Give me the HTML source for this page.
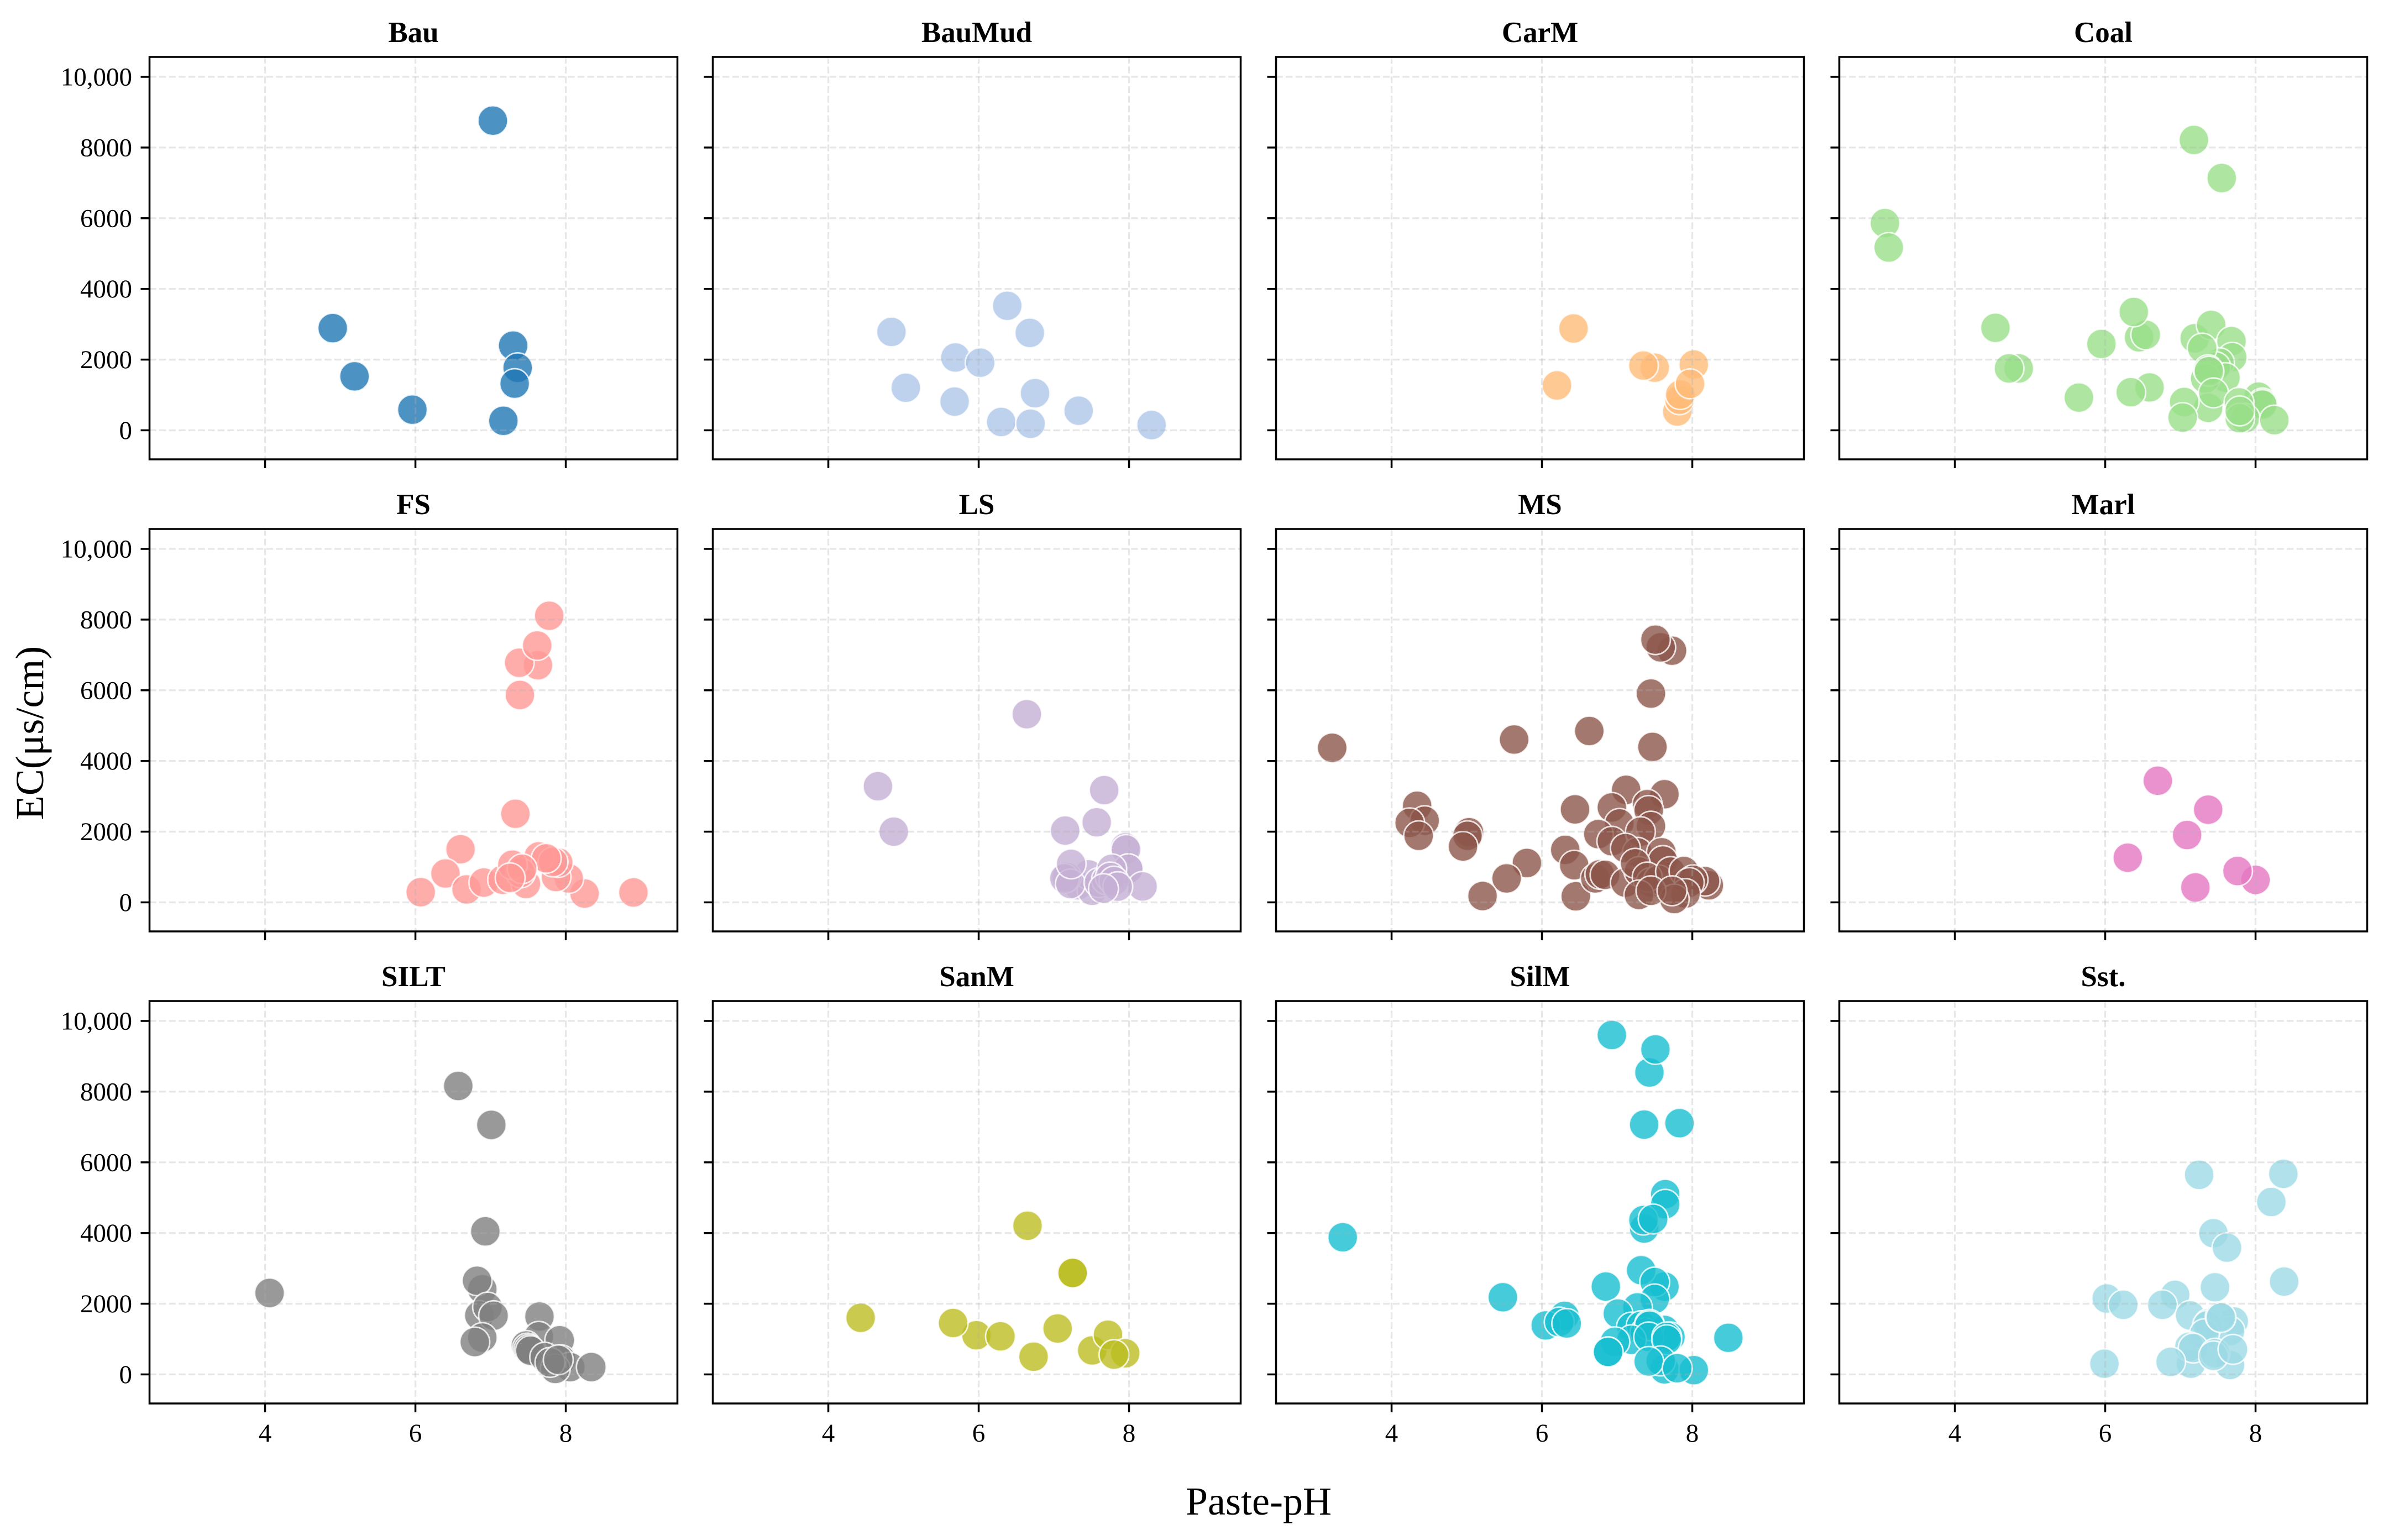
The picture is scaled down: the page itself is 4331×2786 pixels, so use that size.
<!DOCTYPE html>
<html lang="en">
<head>
<meta charset="utf-8">
<title>EC vs Paste-pH by lithology</title>
<style>
html,body{margin:0;padding:0;background:#fff;width:4331px;height:2786px;overflow:hidden}
svg{display:block}
text{font-family:"Liberation Serif","Times New Roman",serif;fill:#000}
</style>
</head>
<body>
<svg id="figure" xmlns="http://www.w3.org/2000/svg" width="4331" height="2786" viewBox="0 0 4331 2786">
<rect x="0" y="0" width="4331" height="2786" fill="#ffffff"/>
<text x="2277" y="2740" font-size="72" text-anchor="middle">Paste-pH</text>
<text x="78" y="1326" font-size="72" text-anchor="middle" transform="rotate(-90 78 1326)">EC(μs/cm)</text>
</svg>
<script>
const panelNames = ["Bau","BauMud","CarM","Coal","FS","LS","MS","Marl","SILT","SanM","SilM","Sst."];
const panelColors = ["#1f77b4","#aec7e8","#ffbb78","#98df8a","#ff9896","#c5b0d5","#8c564b","#e377c2","#7f7f7f","#bcbd22","#17becf","#9edae5"];
const xTicks = [4,6,8];
const yTicks = [0,2000,4000,6000,8000,10000];
const yTickLabels = ["0","2000","4000","6000","8000","10,000"];

const bauPh = [7.03,4.90,5.19,5.96,7.17,7.30,7.36,7.32];
const bauEc = [8761,2890,1526,583,269,2397,1768,1320];
const bauMudPh = [6.38,4.84,6.68,5.69,6.02,5.03,5.68,6.75,7.33,6.30,6.69,8.30];
const bauMudEc = [3523,2784,2755,2060,1913,1204,812,1049,554,236,185,148];
const carMPh = [6.42,6.20,7.50,7.35,8.02,7.80,7.83,7.84,7.97];
const carMEc = [2880,1270,1772,1832,1861,532,864,1012,1315];
const coalPh = [7.18,7.55,3.07,3.12,4.54,4.85,4.72,5.95,5.65,6.45,6.54,6.38,6.59,6.34,7.19,7.41,7.68,7.69,7.52,7.47,7.60,7.33,7.29,7.37,7.38,7.37,7.44,7.05,7.03,8.04,8.09,8.09,7.78,7.86,7.79,7.79,8.25];
const coalEc = [8214,7136,5862,5171,2899,1750,1750,2442,925,2630,2702,3348,1212,1077,2603,2980,2522,2065,1912,1800,1490,1463,2325,1715,1670,637,1059,800,359,952,772,727,790,341,341,548,287];
const fsPh = [7.78,7.63,7.38,7.62,7.39,7.33,6.60,6.40,6.07,6.68,6.91,8.90,8.25,8.04,7.87,7.90,7.64,7.83,7.74,7.16,7.47,7.40,7.29,7.42,7.26];
const fsEc = [8109,6708,6778,7268,5868,2506,1502,817,288,366,560,280,249,677,716,1128,1300,1144,1245,640,521,833,1066,950,693];
const lsPh = [6.64,4.66,4.87,7.67,7.57,7.15,7.95,7.96,7.32,7.51,7.99,7.99,8.18,7.46,7.17,7.14,7.22,7.23,7.60,7.70,7.77,7.75,7.80,7.85,7.66];
const lsEc = [5323,3284,2000,3175,2265,2031,1556,1494,482,327,949,949,451,794,716,677,521,1089,560,638,949,716,600,444,389];
const msPh = [3.21,5.63,6.63,7.47,7.45,7.73,7.58,7.51,4.34,4.44,4.24,4.36,5.03,5.01,4.95,5.80,5.53,5.21,6.44,6.45,6.31,6.43,7.12,7.63,7.40,6.93,7.42,7.03,7.45,6.75,6.93,7.31,7.27,7.11,7.59,7.61,6.71,6.77,6.84,7.11,7.29,7.24,7.45,7.55,7.40,7.71,7.89,8.22,8.17,8.01,7.96,7.91,7.76,7.29,7.45,7.73];
const msEc = [4373,4607,4848,4397,5907,7121,7214,7432,2732,2311,2249,1883,1984,1883,1580,1113,677,179,2630,171,1486,1050,3183,3058,2778,2685,2599,2233,2155,1930,1728,2000,1416,1533,1416,1183,677,794,778,560,872,1105,560,638,716,872,887,482,600,638,560,249,93,210,327,327];
const marlPh = [6.70,7.37,7.09,6.30,8.00,7.76,7.20];
const marlEc = [3442,2622,1905,1263,635,886,421];
const siltPh = [6.57,7.01,6.93,6.89,6.82,4.06,6.85,6.96,7.04,6.89,6.79,7.65,7.64,7.92,7.47,7.49,7.51,7.53,7.72,7.94,8.06,7.86,7.79,7.90,8.34];
const siltEc = [8161,7060,4047,2408,2651,2304,1669,1905,1661,1041,916,1638,1077,967,819,745,708,672,487,413,207,155,340,413,207];
const sanMPh = [4.43,6.65,7.25,7.25,5.97,5.66,6.29,6.73,7.05,7.51,7.72,7.95,7.80];
const sanMEc = [1601,4207,2871,2871,1107,1454,1077,502,1299,679,1122,598,561];
const silMPh = [6.93,7.43,7.51,7.36,7.83,7.64,7.64,7.36,7.35,7.48,3.35,7.63,7.32,7.50,6.85,7.50,5.48,6.30,6.05,6.23,6.33,7.27,7.01,8.48,7.19,7.32,7.37,7.63,7.71,7.43,7.43,7.19,7.42,7.66,7.66,6.97,6.88,6.88,7.63,7.58,7.42,8.02,7.80];
const silMEc = [9602,8542,9195,7068,7108,5100,4813,4127,4367,4398,3880,2486,2948,2614,2486,2135,2183,1657,1386,1482,1442,1896,1721,1036,1339,1378,1179,1259,1060,1418,1378,980,1060,1060,980,924,637,637,143,382,367,120,175];
const sstPh = [7.25,8.37,8.21,7.44,7.62,8.38,7.46,6.02,6.24,5.99,6.93,6.76,7.13,7.71,7.66,7.38,7.36,7.32,7.53,7.54,7.66,7.14,7.12,7.17,7.46,7.44,6.87,7.70];
const sstEc = [5646,5675,4878,3993,3587,2627,2465,2148,1970,303,2251,1970,1668,1498,1225,1446,1387,1151,1631,1609,266,303,782,745,598,524,354,708];

const panelPh = [bauPh,bauMudPh,carMPh,coalPh,fsPh,lsPh,msPh,marlPh,siltPh,sanMPh,silMPh,sstPh];
const panelEc = [bauEc,bauMudEc,carMEc,coalEc,fsEc,lsEc,msEc,marlEc,siltEc,sanMEc,silMEc,sstEc];

const SVG_NS = "http://www.w3.org/2000/svg";
const figure = document.getElementById("figure");
const COLS = 4, ROWS = 3;
const AX_W = 955, AX_H = 728, COL_PITCH = 1019, ROW_PITCH = 854, AX_LEFT = 270.5, AX_TOP = 103;
const PH_MIN = 2.463, PH_MAX = 9.485, EC_MIN = -822, EC_MAX = 10563;

function axLeft(col){ return AX_LEFT + col * COL_PITCH; }
function axTop(row){ return AX_TOP + row * ROW_PITCH; }
function xScale(col, ph){ return axLeft(col) + (ph - PH_MIN) / (PH_MAX - PH_MIN) * AX_W; }
function yScale(row, ec){ return axTop(row) + AX_H - (ec - EC_MIN) / (EC_MAX - EC_MIN) * AX_H; }
function make(tag, attrs, parent){
  const el = document.createElementNS(SVG_NS, tag);
  for (const k in attrs) el.setAttribute(k, attrs[k]);
  parent.appendChild(el);
  return el;
}

panelNames.forEach(function(name, i){
  const col = i % COLS, row = Math.floor(i / COLS);
  const key = name.toLowerCase().replace(/[^a-z]/g, "");
  const L = axLeft(col), T = axTop(row), R = L + AX_W, B = T + AX_H;

  const panel = make("g", {}, figure);
  
  

  const title = make("text", {x: L + AX_W / 2, y: T - 27, "font-size": 53, "font-weight": "bold", "text-anchor": "middle"}, panel);
  title.textContent = name;
  
  

  const ph = panelPh[i], ec = panelEc[i];
  ph.forEach(function(v, j){
    const pt = make("circle", {cx: xScale(col, v), cy: yScale(row, ec[j]), r: 27, fill: panelColors[i], "fill-opacity": 0.8, stroke: "#ffffff", "stroke-opacity": 0.8, "stroke-width": 2.8}, panel);
    
    
  });

  xTicks.forEach(function(t){
    const x = xScale(col, t);
    const grid = make("line", {x1: x, x2: x, y1: T, y2: B, stroke: "#b0b0b0", "stroke-opacity": 0.3, "stroke-width": 3.3, "stroke-dasharray": "12.3 5.3"}, panel);
    
    
    const tick = make("line", {x1: x, x2: x, y1: B, y2: B + 16, stroke: "#000", "stroke-width": 3.5}, panel);
    
    
    if (row === ROWS - 1) {
      const lab = make("text", {x: x, y: 2608, "font-size": 47, "text-anchor": "middle"}, panel);
      lab.textContent = String(t);
      
      
    }
  });

  yTicks.forEach(function(t, k){
    const y = yScale(row, t);
    const grid = make("line", {x1: L, x2: R, y1: y, y2: y, stroke: "#b0b0b0", "stroke-opacity": 0.3, "stroke-width": 3.3, "stroke-dasharray": "12.3 5.3"}, panel);
    
    
    const tick = make("line", {x1: L - 16, x2: L, y1: y, y2: y, stroke: "#000", "stroke-width": 3.5}, panel);
    
    
    if (col === 0) {
      const lab = make("text", {x: 239, y: y + 15.5, "font-size": 47, "text-anchor": "end"}, panel);
      lab.textContent = yTickLabels[k];
      
      
    }
  });

  const frame = make("rect", {x: L, y: T, width: AX_W, height: AX_H, fill: "none", stroke: "#000", "stroke-width": 3.5}, panel);
  
  
});
</script>
</body>
</html>
